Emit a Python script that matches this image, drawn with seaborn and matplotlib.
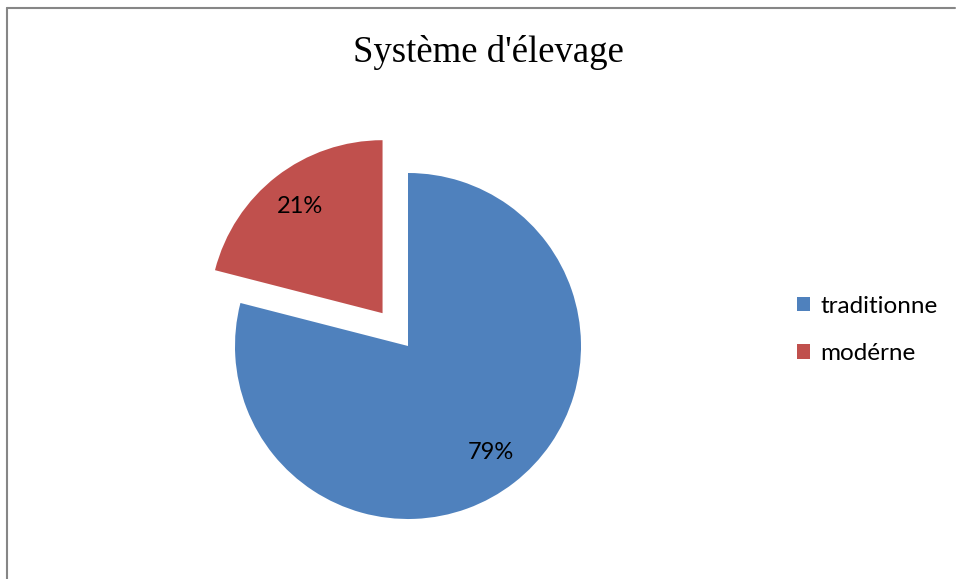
import matplotlib
matplotlib.use("Agg")
import matplotlib.pyplot as plt
from matplotlib.lines import Line2D
from matplotlib.patches import Patch
import seaborn as sns

# Breeding system shares (%)
categories = ["traditionne", "modérne"]
shares = [79, 21]
title_text = "Système d'élevage"

sns.set_theme(style="white")
plt.rcParams["font.family"] = ["Lato", "DejaVu Sans"]
plt.rcParams["text.color"] = "black"
colors = sns.color_palette(["#4F81BD", "#C0504D"])

W, H = 956, 579
fig = plt.figure(figsize=(W / 100, H / 100), dpi=100)
fig.patch.set_facecolor("white")

# pie axes: centre at (408, 346) px, radius 173 px
cx, cy, r = 408, 346, 173
half = 220
ax = fig.add_axes([(cx - half) / W, (H - cy - half) / H, 2 * half / W, 2 * half / H])

wedges, texts, autotexts = ax.pie(
    shares,
    colors=colors,
    startangle=90,
    counterclock=False,
    explode=[0, 0.24],
    autopct="%1.0f%%",
    pctdistance=0.78,
    textprops=dict(fontsize=17, color="black"),
    wedgeprops=dict(linewidth=0),
)
lim = half / r
ax.set_xlim(-lim, lim)
ax.set_ylim(-lim, lim)
ax.set_aspect("auto")
ax.axis("off")

fig.text(488 / W, 1 - 52 / H, title_text, ha="center", va="center",
         fontsize=26.5, color="black",
         family=["Liberation Serif", "DejaVu Serif"])

handles = [Patch(facecolor=c, edgecolor="none") for c in colors]
leg = fig.legend(handles, categories, loc="center left",
                 bbox_to_anchor=(797 / W, 1 - 330 / H), frameon=False,
                 fontsize=17.5, handlelength=0.55, handleheight=0.55,
                 handletextpad=0.4, labelspacing=1.1, borderpad=0,
                 borderaxespad=0)
for t in leg.get_texts():
    t.set_color("black")

# chart frame (top and left edges visible)
frame_kw = dict(color="#868686", linewidth=1.5, transform=None)
fig.add_artist(Line2D([7, 955], [H - 8, H - 8], **frame_kw))
fig.add_artist(Line2D([7, 7], [H - 8, 0], **frame_kw))

fig.savefig("out.png", dpi=100, facecolor="white")
